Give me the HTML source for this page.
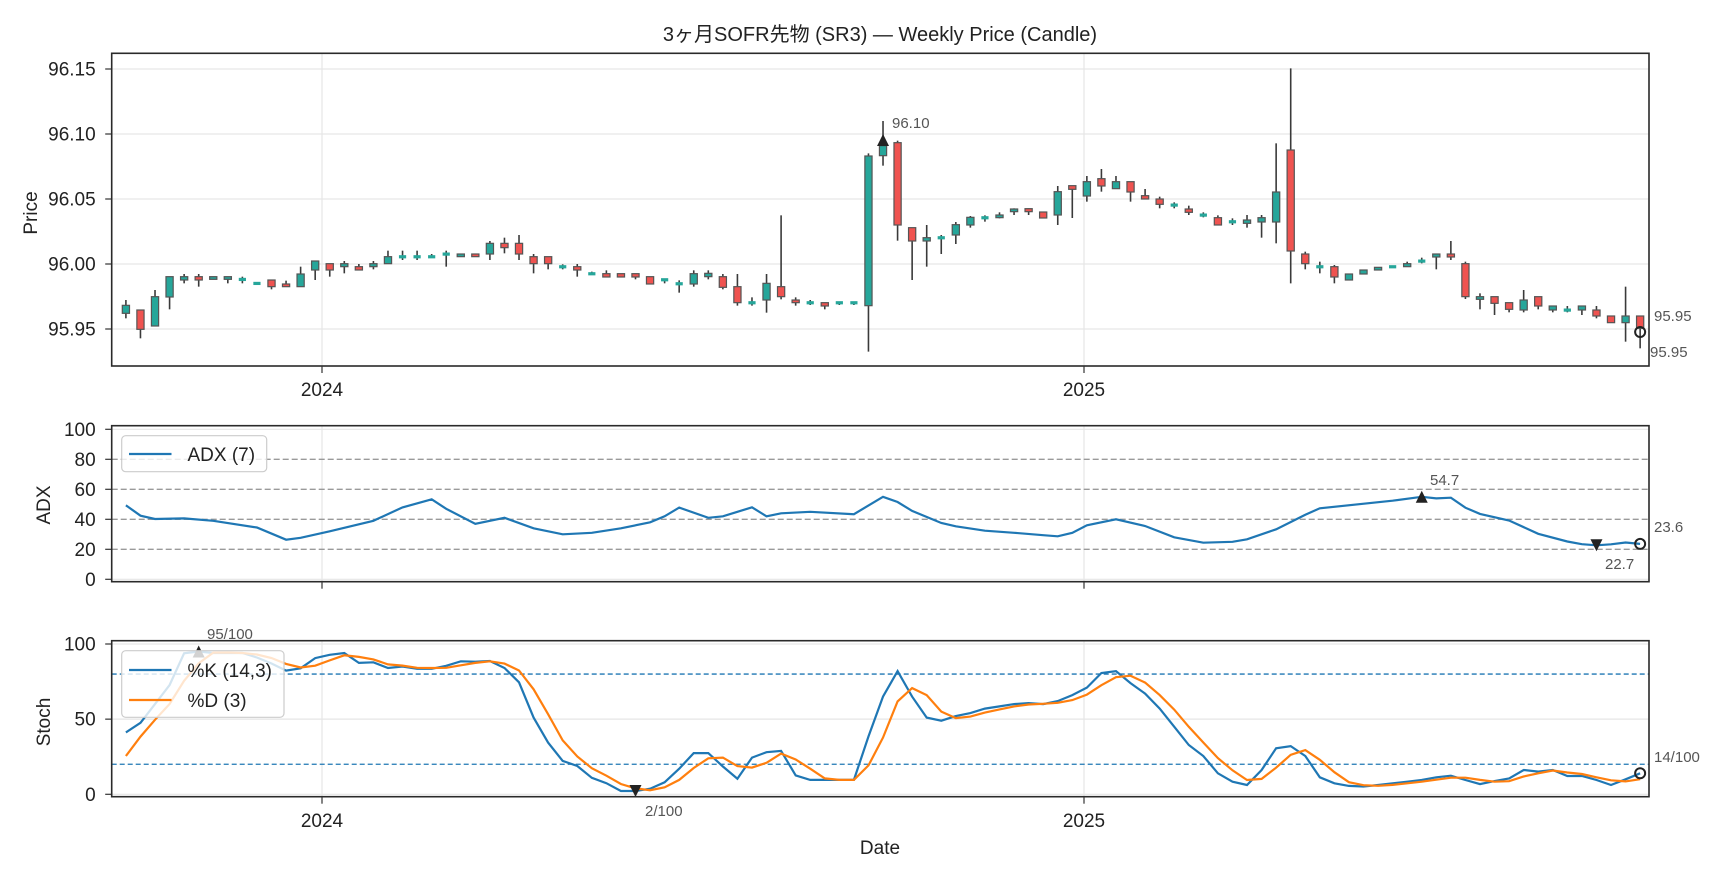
<!DOCTYPE html>
<html><head><meta charset="utf-8">
<style>
html,body{margin:0;padding:0;background:#fff;}
svg{display:block;font-family:"Liberation Sans","Noto Sans CJK JP",sans-serif;}
</style></head>
<body>
<svg id="s" width="1728" height="878" viewBox="0 0 1728 878" xmlns="http://www.w3.org/2000/svg">
<rect width="1728" height="878" fill="#fff"/>
<text x="880" y="41" font-size="20" text-anchor="middle" fill="#222">3ヶ月SOFR先物 (SR3) — Weekly Price (Candle)</text>
<g id="g"></g>
</svg>
<script>
const g=document.getElementById('g');
let h='';
const L=111.7,R=1649;
const X=i=>125.9+14.56*i;
const P={t:53.3,b:366}, A={t:425.7,b:581.7}, S={t:640.7,b:796.7};
const py=p=>264-(p-96)*1300, ay=v=>579.3-v*1.5, sy=v=>794.3-v*1.503;
for(const pn of [P,A,S]){for(const x of [322,1084]){h+=`<line x1="${x}" y1="${pn.t}" x2="${x}" y2="${pn.b}" stroke="#e6e6e6" stroke-width="1.2"/>`;}}
for(const p of [96.15,96.10,96.05,96.00,95.95]){const y=py(p);h+=`<line x1="${L}" y1="${y}" x2="${R}" y2="${y}" stroke="#e6e6e6" stroke-width="1.2"/><line x1="${L-6.5}" y1="${y}" x2="${L}" y2="${y}" stroke="#333" stroke-width="1.2"/><text x="95.7" y="${y+6.5}" font-size="19" text-anchor="end" fill="#222">${p.toFixed(2)}</text>`;}
for(const v of [0,100]){const y=ay(v);h+=`<line x1="${L}" y1="${y}" x2="${R}" y2="${y}" stroke="#e6e6e6" stroke-width="1.2"/>`;}
for(const v of [20,40,60,80]){const y=ay(v);h+=`<line x1="${L}" y1="${y}" x2="${R}" y2="${y}" stroke="#9a9a9a" stroke-width="1.3" stroke-dasharray="6,3"/>`;}
for(const v of [0,20,40,60,80,100]){const y=ay(v);h+=`<line x1="${L-6.5}" y1="${y}" x2="${L}" y2="${y}" stroke="#333" stroke-width="1.2"/><text x="95.7" y="${y+6.5}" font-size="19" text-anchor="end" fill="#222">${v}</text>`;}
for(const v of [0,50,100]){const y=sy(v);h+=`<line x1="${L}" y1="${y}" x2="${R}" y2="${y}" stroke="#e6e6e6" stroke-width="1.2"/><line x1="${L-6.5}" y1="${y}" x2="${L}" y2="${y}" stroke="#333" stroke-width="1.2"/><text x="95.7" y="${y+6.5}" font-size="19" text-anchor="end" fill="#222">${v}</text>`;}
for(const v of [20,80]){const y=sy(v);h+=`<line x1="${L}" y1="${y}" x2="${R}" y2="${y}" stroke="#1f77b4" stroke-width="1.3" stroke-dasharray="5,3"/>`;}
const A1=[[940,916,900,955],[930,988,930,1015],[978,890,870,978],[891,830,830,928],[840,830,822,850],[830,840,822,860],[838,830,830,838],[838,830,830,850],[838,838,830,850],[850,850,850,850],[840,860,840,868],[852,860,842,860],[860,822,800,860],[810,783,783,840],[791,810,791,830],[800,791,783,820],[800,810,792,810],[800,791,783,808],[791,770,752,791],[770,770,752,780],[770,770,752,780],[770,770,762,770],[762,762,752,800],[770,762,762,770],[762,770,762,770],[762,730,723,780],[730,743,713,760],[730,762,705,780],[770,791,762,820],[770,791,770,808]];
const B1=[[500,500,493,508],[500,510,492,530],[521,521,515,525],[521,531,511,531],[521,531,521,531],[521,531,521,538],[530,552,530,552],[539,539,539,550],[551,551,541,578],[552,521,511,560],[530,520,511,538],[530,562,522,568],[560,608,522,617],[608,608,592,617],[600,550,522,638],[560,590,346,598],[600,608,592,617],[608,608,600,615],[608,618,608,628],[608,608,605,615],[608,608,605,615],
[617,168,160,755],[167,137,63,197],[128,375,122,422],[383,423,383,540],[423,413,375,500],[413,413,405,462],[405,374,366,432],[375,352,348,383],[353,353,346,365],[353,345,337,355],[335,327,325,345],[326,335,325,345],[336,354,336,354],[345,275,258,375],[257,268,257,354],[288,245,228,305],[236,258,207,275],[266,245,228,266],[245,276,245,305],[287,297,267,297]];
const D1=[[597,613,590,625],[615,615,607,625],[627,637,617,645],[645,645,637,652],[653,675,646,675],[665,665,655,675],[670,660,645,683],[666,653,645,713],[666,576,430,730],[450,753,205,850],[762,791,755,808],[800,800,785,820],[800,831,795,850],[840,822,822,840],[822,810,810,822],[810,802,802,810],[800,800,800,800],[800,791,785,800],[783,783,773,790],[771,762,762,808],[762,771,723,780],[791,890,785,897],[898,890,880,928],[890,910,890,945],[908,928,908,937],[930,900,870,937],[890,918,890,928],[930,918,918,937],[930,930,918,937],[930,918,918,945],[930,948,918,955],[948,968,948,968],[968,948,860,1025],[948,985,948,1045]];
const C=[];
A1.forEach(a=>C.push(a.map(v=>v/3)));
B1.forEach(a=>C.push(a.map(v=>100+v/3)));
D1.forEach(a=>C.push(a.map(v=>v/3)));
C.forEach((c,i)=>{const x=X(i);const [o,cl,hi,lo]=c;
 h+=`<line x1="${x}" y1="${hi}" x2="${x}" y2="${lo}" stroke="#3a3a3a" stroke-width="1.6"/>`;
 const top=Math.min(o,cl),bh=Math.abs(o-cl);
 const col=cl<o?'#26a69a':(cl>o?'#ef5350':'#26a69a');
 if(bh<2){h+=`<rect x="${x-3.6}" y="${top-1.5}" width="7.2" height="3.2" fill="${col}"/>`;}
 else h+=`<rect x="${x-3.6}" y="${top}" width="7.2" height="${bh}" fill="${col}" stroke="#555" stroke-width="1.2"/>`;
});
{const x=X(52);h+=`<polygon points="${x-6},146 ${x+6},146 ${x},134" fill="#222"/><text x="892" y="128" font-size="15" fill="#555">96.10</text>`;
 const x2=X(104);h+=`<circle cx="${x2}" cy="332" r="5" fill="none" stroke="#222" stroke-width="2"/><text x="1654" y="321" font-size="15" fill="#555">95.95</text><text x="1650" y="357" font-size="15" fill="#555">95.95</text>`;}
const AD=[[0,49.3],[1,42.4],[2,40.2],[4,40.6],[6,39],[9,34.5],[11,26.4],[12,27.7],[14,32],[17,39],[19,47.9],[21,53.3],[22,47],[24,37],[26,41],[28,34],[30,30],[32,31],[34,34],[36,38],[37,42],[38,47.8],[40,41],[41,42],[42,45],[43,48],[44,42],[45,44],[47,45],[50,43.4],[52,55],[53,51.5],[54,45.6],[56,37.5],[57,35.3],[59,32.4],[61,31],[63,29.4],[64,28.7],[65,31],[66,36],[68,40],[70,35.5],[72,28],[74,24.4],[76,25],[77,26.7],[79,33.3],[81,43],[82,47.3],[87,52.4],[89,55],[90,53.9],[91,54.4],[92,47.7],[93,43.6],[95,39.2],[97,30.3],[99,25.2],[100,23.4],[101,22.7],[102,23.3],[103,24.5],[104,23.6]];
h+=`<polyline fill="none" stroke="#1f77b4" stroke-width="2.2" points="${AD.map(p=>X(p[0]).toFixed(1)+','+ay(p[1]).toFixed(1)).join(' ')}"/>`;
{const x=X(89),y=ay(55);h+=`<polygon points="${x-6},${y+6} ${x+6},${y+6} ${x},${y-6}" fill="#222"/><text x="1430" y="485" font-size="15" fill="#555">54.7</text>`;
 const x1=X(101),y1=ay(22.7);h+=`<polygon points="${x1-6},${y1-6} ${x1+6},${y1-6} ${x1},${y1+6}" fill="#222"/><text x="1605" y="569" font-size="15" fill="#555">22.7</text>`;
 const x2=X(104),y2=ay(23.6);h+=`<circle cx="${x2}" cy="${y2}" r="5" fill="none" stroke="#222" stroke-width="2"/><text x="1654" y="532" font-size="15" fill="#555">23.6</text>`;}
h+=`<rect x="121.7" y="435.7" width="145" height="36" rx="4" fill="#fff" fill-opacity="0.8" stroke="#ccc" stroke-width="1.2"/><line x1="129" y1="454" x2="171.5" y2="454" stroke="#1f77b4" stroke-width="2.2"/><text x="187.5" y="461" font-size="19" fill="#222">ADX (7)</text>`;
const K=[41.2,47.6,60,72.7,93.8,95,94,94,94,91,87,82.3,83.8,90.6,92.8,94,87.4,87.8,84,85,83.5,83.5,85.5,88.5,88.2,88.7,84,74.5,51,34.4,22.2,18.8,11,7.4,2.2,2.2,3.7,8,17,27.4,27.4,18.5,10.4,24.4,28,28.9,12.6,9.6,9.6,9.6,9.6,38.5,65,82,65,51,49,52,54,57,58.5,60,60.7,60,62,66,71,80.7,82,74,67,57,45,32.8,25.5,14,8.4,6.2,16.2,30.6,32.1,25.5,11.3,7.3,5.6,5.2,6.2,7.3,8.4,9.5,11.3,12.4,9.5,6.8,8.8,10.6,16.2,15.1,16.2,12.2,12.2,9.5,6.2,10,14];
const Dd=K.map((v,i)=>i==0?25.5:i==1?38.4:(K[i]+K[i-1]+K[i-2])/3);
h+=`<polyline fill="none" stroke="#1f77b4" stroke-width="2.2" points="${K.map((v,i)=>X(i).toFixed(1)+','+sy(v).toFixed(1)).join(' ')}"/>`;
h+=`<polyline fill="none" stroke="#ff7f0e" stroke-width="2.2" points="${Dd.map((v,i)=>X(i).toFixed(1)+','+sy(v).toFixed(1)).join(' ')}"/>`;
{const x=X(5),y=sy(95);h+=`<polygon points="${x-6},${y+6} ${x+6},${y+6} ${x},${y-6}" fill="#222"/><rect x="204" y="624" width="56" height="17" fill="#fff" fill-opacity="0.8"/><text x="207" y="639" font-size="15" fill="#555">95/100</text>`;
 const x1=X(35),y1=sy(2.2);h+=`<polygon points="${x1-6},${y1-6} ${x1+6},${y1-6} ${x1},${y1+6}" fill="#222"/><text x="645" y="816" font-size="15" fill="#555">2/100</text>`;
 const x2=X(104),y2=sy(14);h+=`<circle cx="${x2}" cy="${y2}" r="5" fill="none" stroke="#222" stroke-width="2"/><text x="1654" y="762" font-size="15" fill="#555">14/100</text>`;}
h+=`<rect x="121.7" y="650.7" width="162.3" height="66.6" rx="4" fill="#fff" fill-opacity="0.8" stroke="#ccc" stroke-width="1.2"/><line x1="129" y1="670" x2="171.5" y2="670" stroke="#1f77b4" stroke-width="2.2"/><text x="187.5" y="677" font-size="19" fill="#222">%K (14,3)</text><line x1="129" y1="700" x2="171.5" y2="700" stroke="#ff7f0e" stroke-width="2.2"/><text x="187.5" y="707" font-size="19" fill="#222">%D (3)</text>`;
for(const pn of [P,A,S]){h+=`<rect x="${L}" y="${pn.t}" width="${R-L}" height="${pn.b-pn.t}" fill="none" stroke="#2a2a2a" stroke-width="1.6"/>`;
 for(const x of [322,1084]) h+=`<line x1="${x}" y1="${pn.b}" x2="${x}" y2="${pn.b+7}" stroke="#333" stroke-width="1.2"/>`;}
for(const [x,t] of [[322,'2024'],[1084,'2025']]){h+=`<text x="${x}" y="396" font-size="19" text-anchor="middle" fill="#222">${t}</text><text x="${x}" y="827" font-size="19" text-anchor="middle" fill="#222">${t}</text>`;}
h+=`<text x="880" y="854" font-size="19" text-anchor="middle" fill="#222">Date</text>`;
h+=`<text transform="translate(37,213) rotate(-90)" font-size="19" text-anchor="middle" fill="#222">Price</text>`;
h+=`<text transform="translate(50,505) rotate(-90)" font-size="19" text-anchor="middle" fill="#222">ADX</text>`;
h+=`<text transform="translate(50,722) rotate(-90)" font-size="19" text-anchor="middle" fill="#222">Stoch</text>`;
g.innerHTML=h;
</script>
</body></html>
